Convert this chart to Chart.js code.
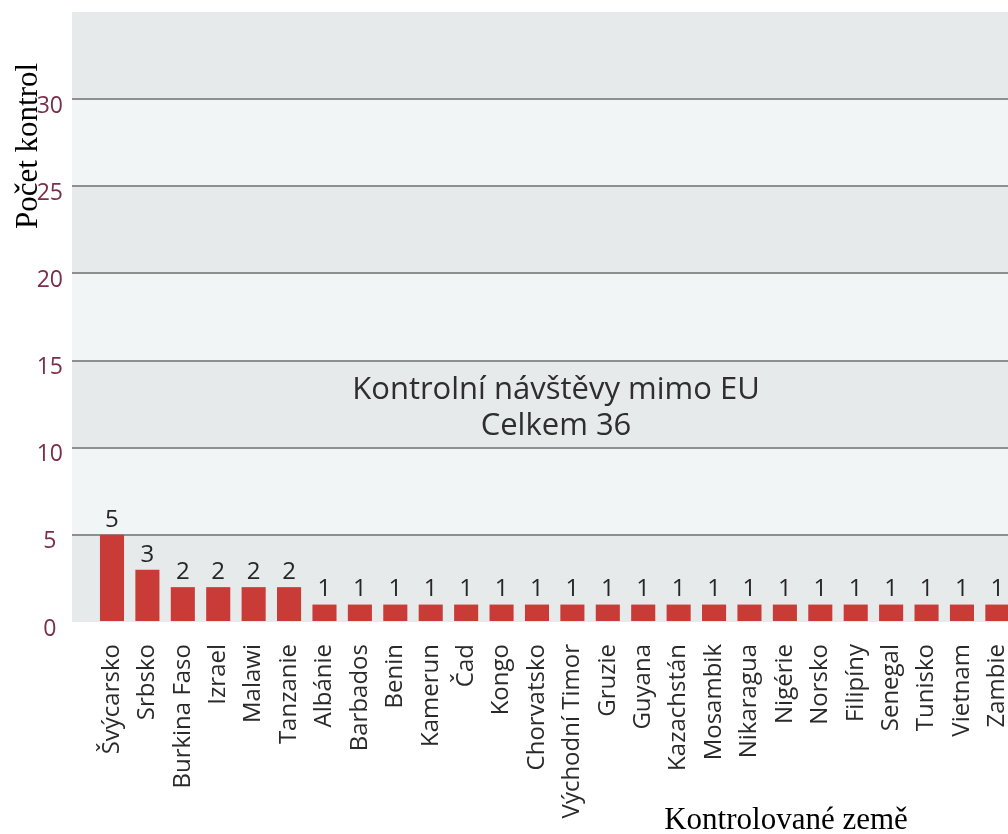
<!DOCTYPE html>
<html>
<head>
<meta charset="utf-8">
<script src="https://cdn.jsdelivr.net/npm/chart.js@4/dist/chart.umd.min.js"></script>
<style>
  html, body { margin: 0; padding: 0; background: #fff; overflow: hidden; }
  #wrap { width: 1008px; height: 834px; }
</style>
</head>
<body>
<div id="wrap"><canvas id="c" width="1008" height="834"></canvas></div>
<script>
// data
const countries = ["Švýcarsko", "Srbsko", "Burkina Faso", "Izrael", "Malawi", "Tanzanie", "Albánie",
  "Barbados", "Benin", "Kamerun", "Čad", "Kongo", "Chorvatsko", "Východní Timor", "Gruzie", "Guyana",
  "Kazachstán", "Mosambik", "Nikaragua", "Nigérie", "Norsko", "Filipíny", "Senegal", "Tunisko",
  "Vietnam", "Zambie"];
const visits = [5, 3, 2, 2, 2, 2, 1, 1, 1, 1, 1, 1, 1, 1, 1, 1, 1, 1, 1, 1, 1, 1, 1, 1, 1, 1];
const yTicks = [0, 5, 10, 15, 20, 25, 30, 35];
const noteLines = ["Kontrolní návštěvy mimo EU", "Celkem 36"];
const yTitle = "Počet kontrol";
const xTitle = "Kontrolované země";

const SANS = "'Open Sans', 'Noto Sans', sans-serif";
const SERIF = "'Liberation Serif', 'DejaVu Serif', serif";

// pásy pozadí + popisky
const decor = {
  id: "decor",
  beforeDraw(chart) {
    const { ctx, chartArea: a, scales: { y } } = chart;
    ctx.save();
    for (let i = 0; i < yTicks.length - 1; i++) {
      const top = y.getPixelForValue(yTicks[i + 1]);
      const bot = y.getPixelForValue(yTicks[i]);
      ctx.fillStyle = i % 2 === 0 ? "#e7eaea" : "#f2f5f5";
      ctx.fillRect(a.left, top, a.right - a.left, bot - top);
    }
    ctx.restore();
  },
  afterDatasetsDraw(chart) {
    const { ctx, chartArea: a } = chart;
    const meta = chart.getDatasetMeta(0);
    ctx.save();
    ctx.font = "24px " + SANS;
    ctx.fillStyle = "#262626";
    ctx.textAlign = "center";
    ctx.textBaseline = "bottom";
    meta.data.forEach((bar, i) => {
      if (bar.x > a.right) return;
      ctx.fillText(String(visits[i]), bar.x, bar.y - 3);
    });

    // poznámka uprostřed
    ctx.font = "31px " + SANS;
    ctx.fillStyle = "#2e2e2e";
    ctx.textBaseline = "alphabetic";
    ctx.fillText(noteLines[0], 556, 399);
    ctx.fillText(noteLines[1], 556, 435);

    // názvy os
    ctx.fillStyle = "#000";
    ctx.font = "31px " + SERIF;
    ctx.fillText(xTitle, 786, 829);
    ctx.translate(37, 146);
    ctx.rotate(-Math.PI / 2);
    ctx.fillText(yTitle, 0, 0);
    ctx.restore();
  }
};

new Chart(document.getElementById("c"), {
  type: "bar",
  data: {
    datasets: [{
      data: visits.map((v, i) => ({ x: i, y: v })),
      backgroundColor: "#c93b37",
      borderWidth: 0,
      barPercentage: 0.68,
      categoryPercentage: 1
    }]
  },
  options: {
    responsive: false,
    animation: false,
    events: [],
    layout: { padding: { top: 12, right: 0, left: 0, bottom: 0 } },
    plugins: { legend: { display: false }, tooltip: { enabled: false } },
    scales: {
      x: {
        type: "linear",
        offset: false,
        min: -1.129,
        max: 25.30,
        afterBuildTicks: s => { s.ticks = countries.map((_, i) => ({ value: i })); },
        afterFit: s => { s.height = 212; s.paddingLeft = 0; s.paddingRight = 0; },
        grid: { display: false, drawTicks: false, offset: false },
        border: { display: false },
        ticks: {
          autoSkip: false,
          minRotation: 90,
          maxRotation: 90,
          padding: 22,
          color: "#2a2a2a",
          font: { family: SANS, size: 24 },
          callback: v => countries[v] ?? ""
        }
      },
      y: {
        min: 0,
        max: 35,
        afterBuildTicks: s => { s.ticks = yTicks.map(v => ({ value: v })); },
        afterFit: s => { s.width = 72; s.paddingTop = 0; s.paddingBottom = 0; },
        grid: {
          drawTicks: false,
          lineWidth: 2,
          color: c => (c.tick && c.tick.value > 0 && c.tick.value < 35) ? "#8e9090" : "rgba(0,0,0,0)"
        },
        border: { display: false },
        ticks: {
          crossAlign: "center",
          padding: 9,
          labelOffset: 7,
          color: "#7a2f47",
          font: { family: SANS, size: 23 },
          callback: v => (v === 35 ? "" : String(v))
        }
      }
    }
  },
  plugins: [decor]
});
</script>
</body>
</html>
